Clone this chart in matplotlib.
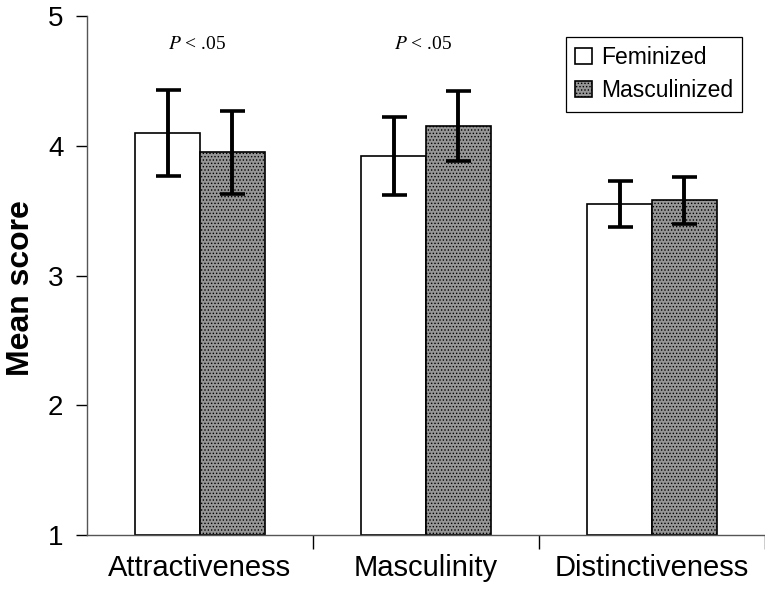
import matplotlib
matplotlib.use("Agg")
import matplotlib.pyplot as plt
import numpy as np

categories = ["Attractiveness", "Masculinity", "Distinctiveness"]
feminized = [4.10, 3.92, 3.55]
feminized_err = [0.33, 0.30, 0.18]
masculinized = [3.95, 4.15, 3.58]
masculinized_err = [0.32, 0.27, 0.18]
series_labels = ["Feminized", "Masculinized"]
annotations = ["$P$ < .05", "$P$ < .05", ""]
yticks = [1, 2, 3, 4, 5]

plt.rcParams['font.family'] = ['Liberation Sans', 'DejaVu Sans']
plt.rcParams['mathtext.fontset'] = 'stix'

W, H = 765, 592
fig = plt.figure(figsize=(W / 100, H / 100), dpi=100)
left, right, top, bottom = 87, 765, 16, 535
ax = fig.add_axes([left / W, 1 - bottom / H, (right - left) / W, (bottom - top) / H])

x = np.arange(len(categories))
bw = 0.285
off = 0.143
err_kw = dict(ecolor='black', elinewidth=2.8, capsize=9, capthick=2.6)
ax.bar(x - off, np.array(feminized) - 1, bw, bottom=1, color='white',
       edgecolor='black', linewidth=1.2, yerr=feminized_err, error_kw=err_kw,
       label=series_labels[0], zorder=2)
plt.rcParams['hatch.color'] = '#6a6a6a'
plt.rcParams['hatch.linewidth'] = 0.6
ax.bar(x + off, np.array(masculinized) - 1, bw, bottom=1, color='#969696',
       edgecolor='black', linewidth=1.2, hatch='.....', yerr=masculinized_err,
       error_kw=err_kw, label=series_labels[1], zorder=2)

for xi, t in zip(x, annotations):
    if t:
        ax.text(xi - 0.015, 4.78, t, ha='center', va='center', fontsize=14,
                family=['Liberation Serif', 'DejaVu Serif'])

ax.set_ylim(1, 5)
ax.set_xlim(-0.5, (765 - 201) / 228.5)
ax.set_yticks(yticks)
ax.set_yticklabels([str(v) for v in yticks], fontsize=20)
ax.tick_params(axis='y', direction='out', length=8, width=1, pad=9, colors='black')

ax.set_xticks([0.5, 1.5, 2.5])
ax.set_xticklabels([])
ax.set_xticks(x, minor=True)
ax.set_xticklabels(categories, minor=True, fontsize=21)
ax.tick_params(axis='x', which='major', direction='out', length=10, width=1)
ax.tick_params(axis='x', which='minor', length=0, pad=14)

for s in ['top', 'right']:
    ax.spines[s].set_visible(False)
for s in ['left', 'bottom']:
    ax.spines[s].set_color('#555555')
    ax.spines[s].set_linewidth(1.0)

fig.text(21 / W, 1 - 288 / H, "Mean score", rotation=90, ha='center', va='center',
         fontsize=23, fontweight='bold')

leg = ax.legend(loc='upper right', bbox_to_anchor=(742 / W, 1 - 37 / H),
                bbox_transform=fig.transFigure, fontsize=16.5, frameon=True,
                fancybox=False, edgecolor='black', framealpha=1,
                handlelength=0.7, handleheight=0.7, handletextpad=0.4,
                labelspacing=0.45, borderpad=0.4, borderaxespad=0)
leg.get_frame().set_linewidth(0.9)

fig.savefig("out.png", dpi=100)
